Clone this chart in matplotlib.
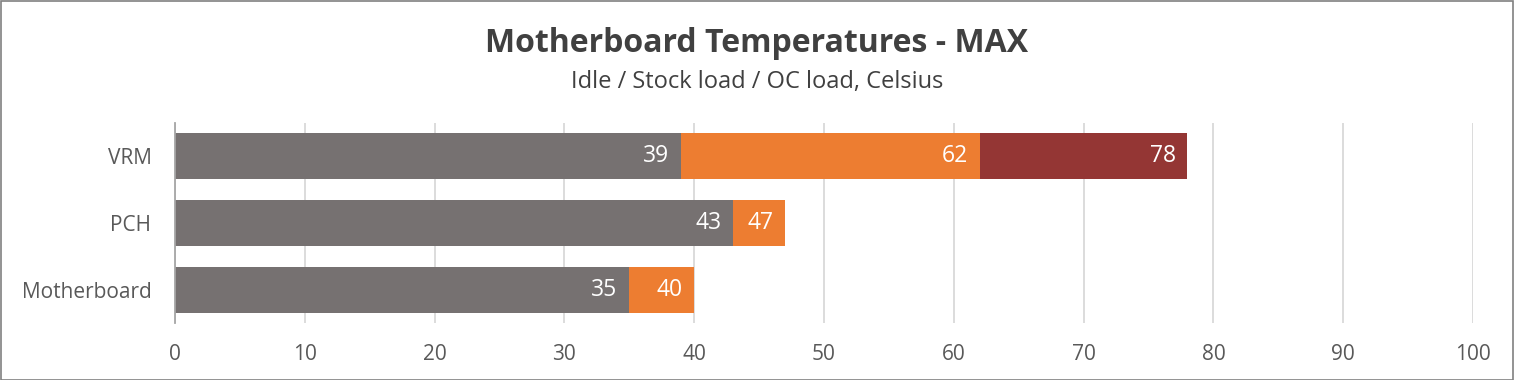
import matplotlib
matplotlib.use("Agg")
import matplotlib.pyplot as plt
from matplotlib.patches import Rectangle

categories = ["VRM", "PCH", "Motherboard"]
idle = [39, 43, 35]
stock = [62, 47, 40]
oc = [78, None, None]
xticks = [0, 10, 20, 30, 40, 50, 60, 70, 80, 90, 100]

title = "Motherboard Temperatures - MAX"
subtitle = "Idle / Stock load / OC load, Celsius"

C_IDLE = "#767171"
C_STOCK = "#ED7D31"
C_OC = "#943634"
FONT = "Open Sans"

fig = plt.figure(figsize=(15.14, 3.80), dpi=100)
ax = fig.add_axes([175/1514, 1-323/380, (1473-175)/1514, 200/380])

ypos = list(range(len(categories)))
h = 0.69
series = [(oc, C_OC), (stock, C_STOCK), (idle, C_IDLE)]
for vals, col in series:
    for y, v in zip(ypos, vals):
        if v is None:
            continue
        ax.barh(y, v, height=h, color=col, zorder=3)
        ax.text(v - 0.9, y, str(v), ha="right", va="center", color="white",
                fontsize=16.5, family=FONT, zorder=4)

ax.set_ylim(len(categories) - 0.5, -0.5)
ax.set_xlim(0, 100)
ax.set_xticks(xticks)
ax.set_xticklabels([str(t) for t in xticks], family=FONT, fontsize=15, color="#595959")
ax.set_yticks(ypos)
ax.set_yticklabels(categories, family=FONT, fontsize=15, color="#595959")
ax.tick_params(axis="both", length=0)
ax.tick_params(axis="x", pad=15)
ax.tick_params(axis="y", pad=17)
ax.grid(axis="x", color="#D9D9D9", linewidth=1.3, zorder=0)
for s in ["top", "right", "bottom"]:
    ax.spines[s].set_visible(False)
ax.spines["left"].set_color("#A6A6A6")
ax.spines["left"].set_linewidth(1.3)
ax.spines["left"].set_zorder(5)

fig.text(0.5, 1-44/380, title, ha="center", va="center", fontsize=23,
         fontweight="bold", color="#404040", family=FONT)
fig.text(0.5, 1-82/380, subtitle, ha="center", va="center", fontsize=17,
         color="#404040", family=FONT)

fig.patches.append(Rectangle((0.5/1514, 0.5/380), 1-1.5/1514, 1-1.5/380, transform=fig.transFigure,
                             fill=False, edgecolor="#808080", linewidth=1.2))

fig.savefig("out.png", dpi=100)
